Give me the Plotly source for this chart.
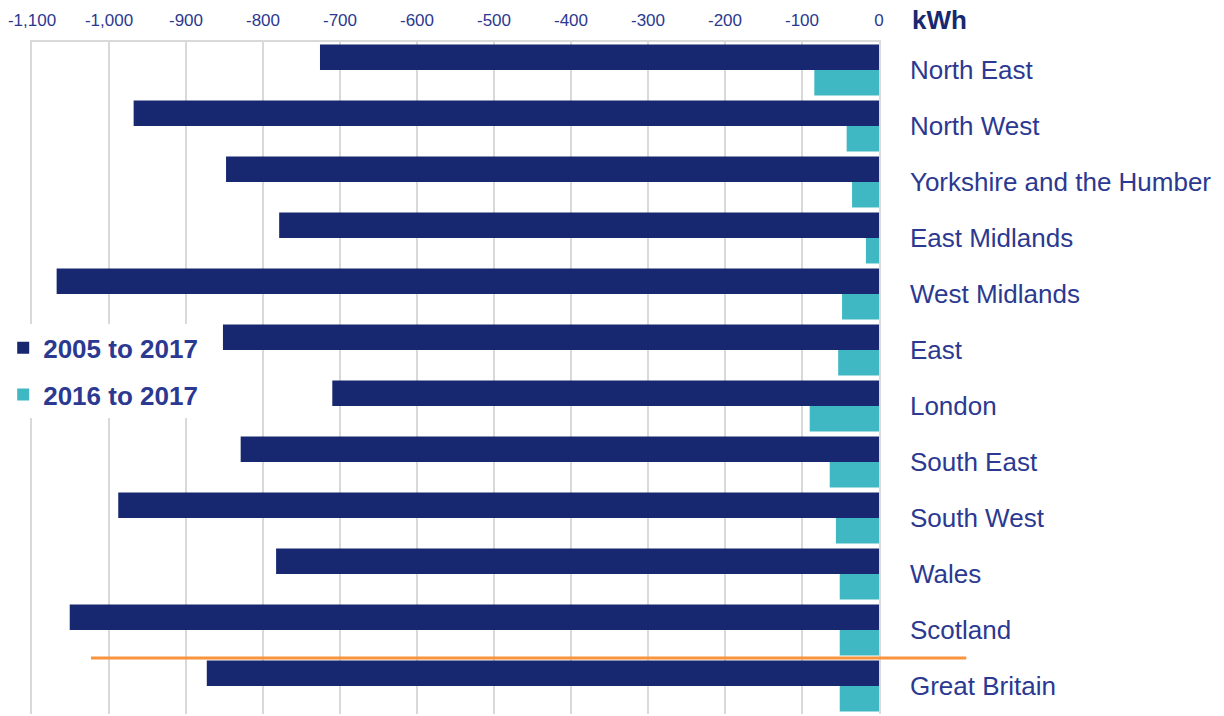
import plotly.graph_objects as go

regions = ["North East", "North West", "Yorkshire and the Humber", "East Midlands",
           "West Midlands", "East", "London", "South East", "South West", "Wales",
           "Scotland", "Great Britain"]
change_2005_2017 = [-726, -968, -848, -779, -1068, -852, -710, -829, -988, -783, -1051, -873]
change_2016_2017 = [-84, -42, -35, -17, -48, -53, -90, -64, -56, -51, -51, -51]
tick_vals = [-1100, -1000, -900, -800, -700, -600, -500, -400, -300, -200, -100, 0]
tick_text = [f"{v:,}" for v in tick_vals]

NAVY = "#172870"
TEAL = "#40B8C3"
TEXT = "#2B3990"
GRID = "#D9D9D9"
FONT = "Liberation Sans, Arial, sans-serif"

fig = go.Figure()
fig.add_trace(go.Bar(y=regions, x=change_2005_2017, orientation="h", name="2005 to 2017",
                     marker=dict(color=NAVY, line=dict(width=0)), legendgroup="a"))
fig.add_trace(go.Bar(y=regions, x=change_2016_2017, orientation="h", name="2016 to 2017",
                     marker=dict(color=TEAL, line=dict(width=0)), legendgroup="b"))

fig.update_layout(
    width=1224, height=716,
    margin=dict(l=32, r=345, t=42, b=2),
    plot_bgcolor="white", paper_bgcolor="white",
    barmode="group", bargap=0.09, bargroupgap=0,
    font=dict(family=FONT, color=TEXT),
    xaxis=dict(side="top", range=[-1100, 0], tickvals=tick_vals, ticktext=tick_text,
               showgrid=True, gridcolor=GRID, gridwidth=1.5, zeroline=False,
               tickfont=dict(size=17, color=TEXT, family="Liberation Sans Narrow, " + FONT),
               showline=True, linecolor=GRID, linewidth=1.5,
               ticks="", automargin=False, ticklabelstandoff=7),
    yaxis=dict(side="right", autorange="reversed", showgrid=False, zeroline=False,
               tickfont=dict(size=26, color=TEXT), ticks="", ticklabelstandoff=24,
               showline=True, mirror=True, linecolor=GRID, linewidth=1.5,
               automargin=False),
    legend=dict(x=-0.034, y=0.510, xanchor="left", yanchor="middle", bgcolor="white",
                font=dict(size=26, color=TEXT, family=FONT, weight="bold"),
                tracegroupgap=10, traceorder="grouped", itemwidth=30),
    showlegend=True,
)

fig.add_shape(type="line", xref="paper", yref="paper",
              x0=0.0697, x1=1.103, y0=1 / len(regions), y1=1 / len(regions),
              line=dict(color="#F7943C", width=3))
fig.add_annotation(text="<b>kWh</b>", xref="paper", yref="paper", x=1.0366, y=1.0327,
                   xanchor="left", yanchor="middle", showarrow=False,
                   font=dict(size=26, color=NAVY, family=FONT))

fig.write_html("out.html", config={"displayModeBar": False},
               post_script="document.body.style.margin='0';document.body.style.overflow='hidden';")
